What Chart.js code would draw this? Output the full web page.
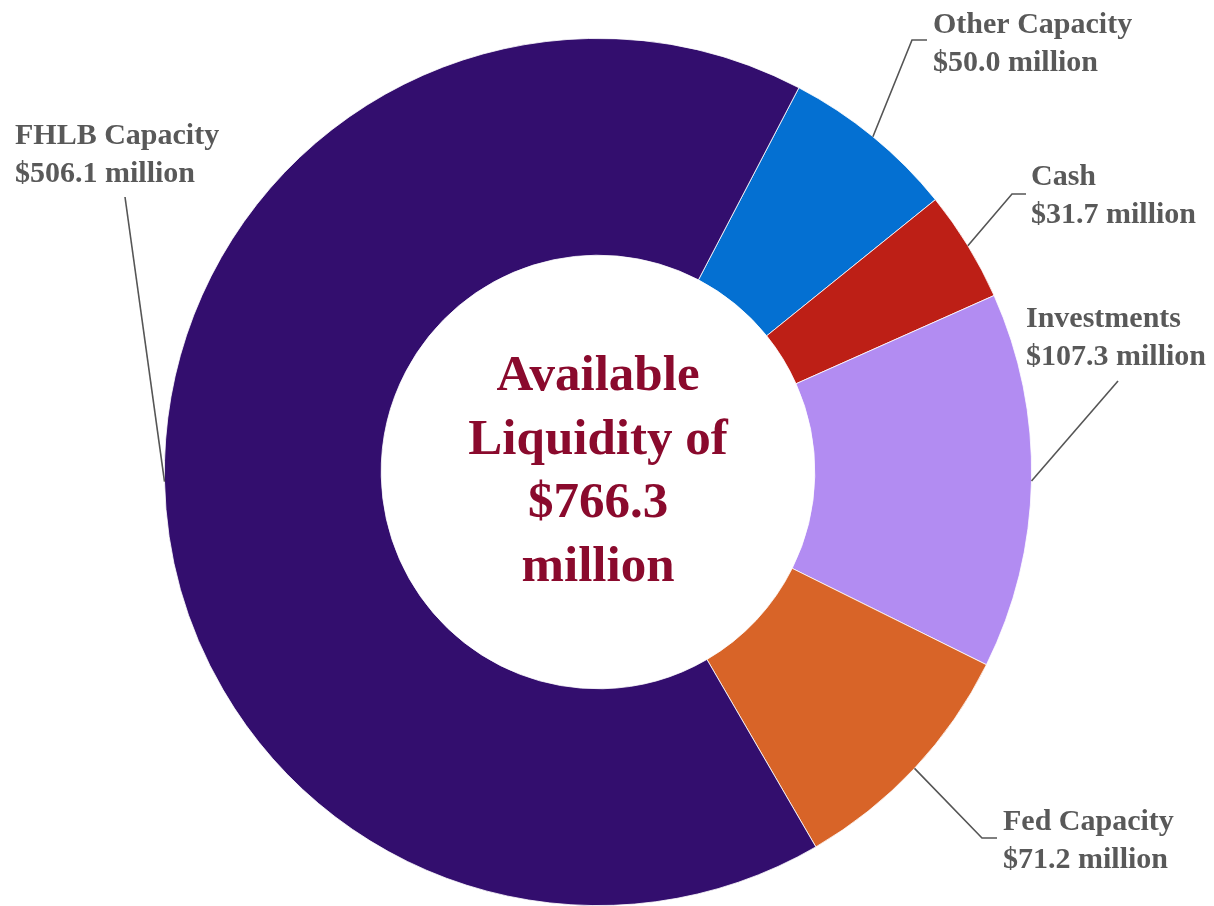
<!DOCTYPE html>
<html>
<head>
<meta charset="utf-8">
<script src="https://cdn.jsdelivr.net/npm/chart.js@4.4.1/dist/chart.umd.min.js"></script>
<style>
  html, body { margin: 0; padding: 0; background: #fff; }
  #wrap { width: 1214px; height: 906px; }
</style>
</head>
<body>
<div id="wrap"><canvas id="liquidity-chart" width="1214" height="906"></canvas></div>
<script>
// Available liquidity breakdown ($ millions), clockwise from the top-right
var categories = ['Other Capacity', 'Cash', 'Investments', 'Fed Capacity', 'FHLB Capacity'];
var amounts = [50.0, 31.7, 107.3, 71.2, 506.1];
var sliceColors = ['#0470d2', '#bd1f16', '#b28cf2', '#d86428', '#330e6e'];
var centerLines = ['Available', 'Liquidity of', '$766.3', 'million'];

// where each callout sits: elbow of the leader line, end of the short tick, text left edge and first baseline
var callouts = [
    { elbow: [912, 40], end: [927, 40], textX: 933, textY: 33 },
    { elbow: [1012, 194], end: [1026, 194], textX: 1031, textY: 185 },
    { elbow: [1118, 381], end: null, textX: 1026, textY: 327 },
    { elbow: [982, 838], end: [997, 838], textX: 1003, textY: 830 },
    { elbow: [125, 197], end: null, textX: 15, textY: 144 }
];

function fmtMillion(v) {
    return '$' + v.toFixed(1) + ' million';
}

var labelsPlugin = {
    id: 'doughnutLabels',
    afterDraw: function(chart) {
        var ctx = chart.ctx;
        var meta = chart.getDatasetMeta(0);
        ctx.save();
        // leader lines + callout text
        meta.data.forEach(function(arc, i) {
            var mid = (arc.startAngle + arc.endAngle) / 2;
            var ax = arc.x + Math.cos(mid) * arc.outerRadius;
            var ay = arc.y + Math.sin(mid) * arc.outerRadius;
            var c = callouts[i];
            ctx.strokeStyle = '#555555';
            ctx.lineWidth = 1.6;
            ctx.beginPath();
            ctx.moveTo(ax, ay);
            ctx.lineTo(c.elbow[0], c.elbow[1]);
            if (c.end) ctx.lineTo(c.end[0], c.end[1]);
            ctx.stroke();

            ctx.fillStyle = '#595959';
            ctx.font = 'bold 30px "Liberation Serif", "DejaVu Serif", serif';
            ctx.textAlign = 'left';
            ctx.textBaseline = 'alphabetic';
            ctx.fillText(chart.data.labels[i], c.textX, c.textY);
            ctx.fillText(fmtMillion(chart.data.datasets[0].data[i]), c.textX, c.textY + 38);
        });

        // centre text
        var cx = meta.data[0].x;
        var cy = meta.data[0].y;
        ctx.fillStyle = '#8a0a2d';
        ctx.font = 'bold 51px "Liberation Serif", "DejaVu Serif", serif';
        ctx.textAlign = 'center';
        var lh = 63.5;
        var firstBase = cy - 82;
        centerLines.forEach(function(line, k) {
            ctx.fillText(line, cx, firstBase + k * lh);
        });
        ctx.restore();
    }
};

var chart = new Chart(document.getElementById('liquidity-chart').getContext('2d'), {
    type: 'doughnut',
    data: {
        labels: categories,
        datasets: [{
            data: amounts,
            backgroundColor: sliceColors,
            borderColor: '#ffffff',
            borderWidth: 0.8
        }]
    },
    options: {
        responsive: false,
        maintainAspectRatio: false,
        animation: false,
        rotation: 27.6,
        cutout: '50%',
        layout: { padding: { left: 164, right: 182, top: 38, bottom: 0 } },
        plugins: {
            legend: { display: false },
            tooltip: { enabled: false }
        }
    },
    plugins: [labelsPlugin]
});
</script>
</body>
</html>
